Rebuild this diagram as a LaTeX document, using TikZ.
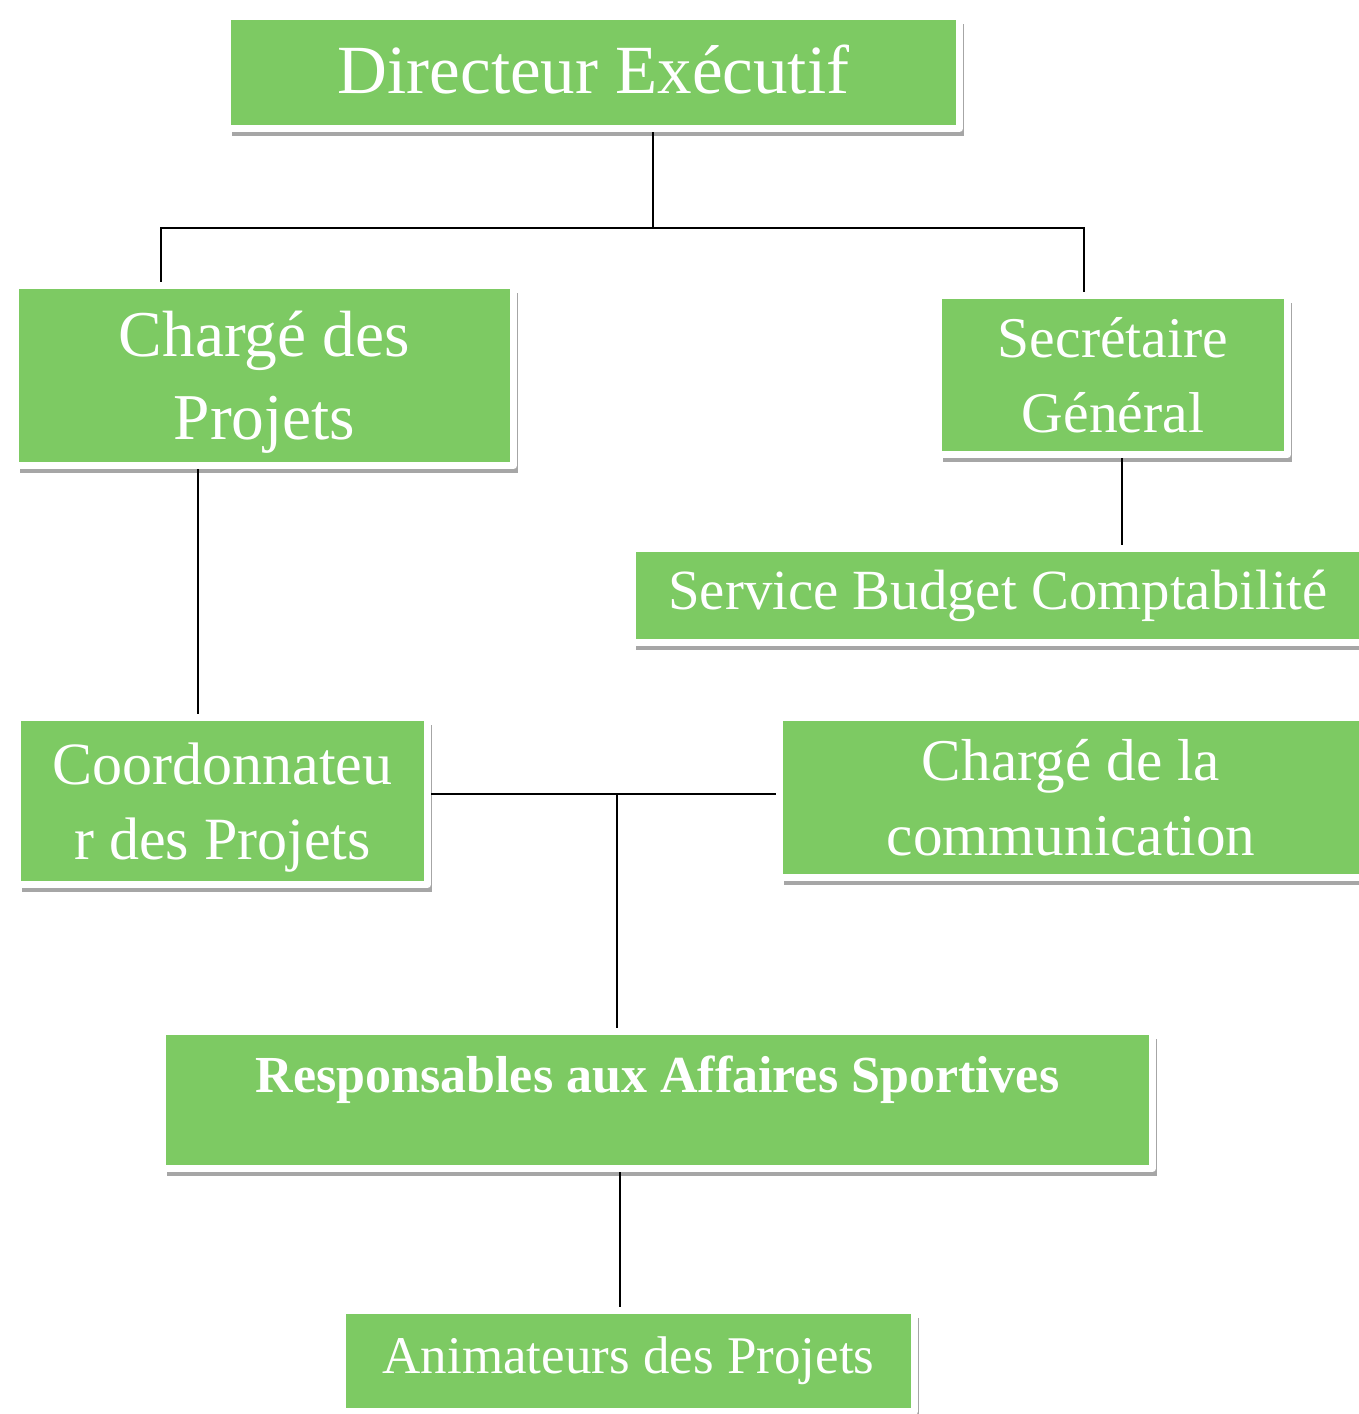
\documentclass[tikz,border=0pt]{standalone}
\usepackage{fontspec}
\setmainfont{Liberation Serif}
\usetikzlibrary{shadows,backgrounds}
\definecolor{boxgreen}{RGB}{125,202,99}
\tikzset{orgbox/.style={rectangle, fill=boxgreen, draw=white, line width=3.5pt, line join=round, text=white, align=center, inner sep=0pt,
    drop shadow={shadow xshift=2.2pt, shadow yshift=-3.8pt, opacity=0.35, fill=black}},
  link/.style={line width=1pt, draw=black}}

\begin{document}
\begin{tikzpicture}[x=0.5pt,y=-0.5pt]
        \useasboundingbox (0,0) rectangle (1359,1414);
        \clip (0,0) rectangle (1359,1414);
        \node[orgbox, minimum width=366pt, minimum height=56pt, text height=23pt, text depth=2pt, font=\fontsize{34.5}{40}\selectfont] (dir) at (593.5,72.5) {Directeur Exécutif};
        \node[orgbox, minimum width=249pt, minimum height=90pt, text depth=0pt, font=\fontsize{32.7}{41.5}\selectfont] (cp) at (264.5,375.5) {Chargé des\\Projets};
        \node[orgbox, minimum width=174.5pt, minimum height=79.5pt, text depth=-4pt, font=\fontsize{28.8}{37.5}\selectfont] (sg) at (1113,375) {Secrétaire\\Général};
        \node[orgbox, minimum width=366pt, minimum height=47pt, font=\fontsize{28.4}{34}\selectfont] (sbc) at (998,595.5) {Service Budget Comptabilité};
        \node[orgbox, minimum width=205pt, minimum height=83.5pt, text depth=0pt, font=\fontsize{30}{37.5}\selectfont] (coord) at (222.5,801) {Coordonnateu\\r des Projets};
        \node[orgbox, minimum width=291.5pt, minimum height=80pt, text depth=-3pt, font=\fontsize{29.6}{37.5}\selectfont] (com) at (1071,797.5) {Chargé de la\\communication};
        \node[orgbox, minimum width=495pt, minimum height=68.5pt, text height=20pt, text depth=28pt, font=\fontsize{26}{31}\selectfont\bfseries] (resp) at (657.5,1100) {Responsables aux Affaires Sportives};
        \node[orgbox, minimum width=286pt, minimum height=50.5pt, font=\fontsize{26.5}{32}\selectfont] (anim) at (628.5,1361) {Animateurs des Projets};
        % liaisons
        \coordinate (jdir) at (653,228);
        \coordinate (jl) at (161,228);
        \coordinate (jr) at (1084,228);
        \coordinate (xsg) at (1122,0);
        \coordinate (xcp) at (198,0);
        \coordinate (jm) at (617,794);
        \coordinate (xresp) at (620,0);
        \begin{pgfonlayer}{background}
        \draw[link] (dir.south -| jdir) -- (jdir);
        \draw[link] (cp.north -| jl) -- (jl) -- (jr) -- (sg.north -| jr);
        \draw[link] (sg.south -| xsg) -- (sbc.north -| xsg);
        \draw[link] (cp.south -| xcp) -- (coord.north -| xcp);
        \draw[link] (coord.east |- jm) -- (com.west |- jm);
        \draw[link] (jm) -- (resp.north -| jm);
        \draw[link] (resp.south -| xresp) -- (anim.north -| xresp);
        \end{pgfonlayer}
    \end{tikzpicture}
\end{document}
